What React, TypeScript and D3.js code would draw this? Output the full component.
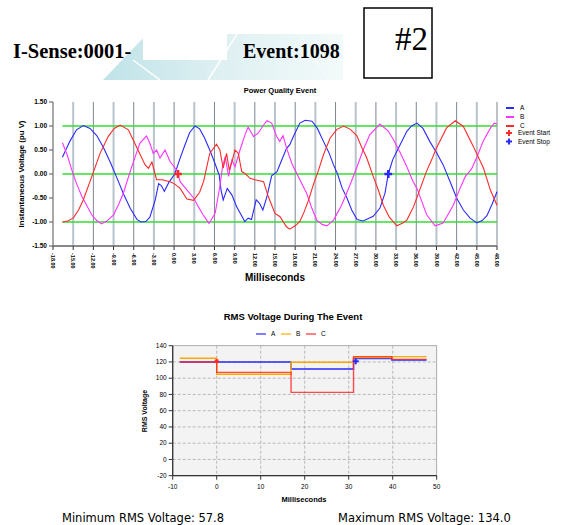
import * as d3 from "d3";
import React from "react";

type Pt = [number, number];

// instantaneous voltage, pu, read from the capture (ms, value)
const phaseA: Pt[] = [
  [-16.6, 0.35], [-15.5, 0.68], [-14.5, 0.92], [-13.5, 1.01], [-12.5, 0.95], [-11.5, 0.8], [-10.5, 0.55],
  [-9.5, 0.25], [-8.5, -0.08], [-7.5, -0.42], [-6.5, -0.72], [-5.5, -0.95], [-4.9, -1.0], [-4.2, -0.99],
  [-3.6, -0.9], [-2.8, -0.54], [-2.3, -0.2], [-1.9, -0.24], [-1.45, -0.36], [-0.8, -0.18], [0.1, 0.0],
  [0.9, 0.33], [1.6, 0.6], [2.3, 0.86], [3.1, 1.0], [3.8, 0.94], [4.5, 0.76], [5.3, 0.5], [6.0, 0.25],
  [6.7, -0.02], [7.0, -0.35], [7.3, -0.54], [7.9, -0.3], [8.6, -0.44], [9.3, -0.68], [10.0, -0.86],
  [10.5, -0.99], [11.0, -0.92], [11.5, -0.95], [12.2, -0.54], [12.7, -0.61], [13.2, -0.75], [13.8, -0.47],
  [14.5, -0.04], [15.3, 0.05], [16.0, 0.29], [16.7, 0.53], [17.2, 0.61], [17.8, 0.8], [18.7, 1.06],
  [19.5, 1.12], [20.5, 1.1], [21.3, 0.95], [22.2, 0.68], [23.0, 0.45], [23.7, 0.19], [24.3, 0.0],
  [25.0, -0.3], [25.7, -0.5], [26.4, -0.75], [27.2, -0.95], [28.1, -0.98], [29.6, -0.88], [30.6, -0.71],
  [31.35, -0.4], [31.84, 0.0], [32.5, 0.3], [33.1, 0.47], [34.6, 0.89], [35.3, 1.0], [36.1, 1.06],
  [37.0, 0.95], [38.0, 0.68], [39.0, 0.45], [40.0, 0.19], [41.0, -0.15], [42.0, -0.5], [43.0, -0.75],
  [44.0, -0.92], [45.0, -1.02], [45.8, -0.97], [46.5, -0.87], [47.3, -0.62], [48.0, -0.37],
];
const phaseB: Pt[] = [
  [-16.6, 0.65], [-15.9, 0.4], [-15.2, 0.08], [-14.5, -0.2], [-13.7, -0.47], [-12.25, -0.85], [-11.5, -0.97],
  [-10.8, -1.04], [-10.0, -0.98], [-9.0, -0.85], [-8.2, -0.62], [-7.55, -0.4], [-6.3, 0.15], [-5.1, 0.64],
  [-4.1, 0.79], [-3.6, 0.64], [-3.1, 0.43], [-2.6, 0.5], [-2.1, 0.33], [-1.35, 0.5], [-0.6, 0.26],
  [0.4, 0.08], [0.9, -0.16], [1.9, -0.33], [2.9, -0.5], [3.6, -0.68], [4.3, -0.85], [5.2, -1.03],
  [6.1, -0.82], [6.8, -0.26], [7.2, 0.15], [7.6, 0.36], [8.1, -0.05], [8.6, 0.29], [9.05, 0.15],
  [9.8, 0.5], [10.5, 0.8], [11.0, 0.98], [11.8, 0.78], [12.5, 0.85], [13.2, 1.0], [13.8, 1.11],
  [14.5, 1.06], [15.25, 0.78], [15.7, 0.68], [16.2, 0.8], [16.7, 0.55], [17.5, 0.22], [18.7, -0.12],
  [19.7, -0.4], [20.5, -0.72], [21.2, -0.96], [22.0, -1.05], [22.7, -1.08], [23.7, -0.96], [24.9, -0.65],
  [26.15, -0.23], [27.2, 0.15], [28.1, 0.5], [29.1, 0.82], [30.6, 1.04], [31.8, 0.9], [32.6, 0.72],
  [33.6, 0.45], [34.6, 0.15], [35.5, -0.15], [36.1, -0.3], [37.55, -0.85], [38.8, -1.08], [40.0, -1.02],
  [41.5, -0.65], [42.5, -0.3], [43.3, -0.05], [44.2, 0.1], [45.0, 0.35], [46.0, 0.7], [47.0, 0.95],
  [47.6, 1.06], [48.0, 1.04],
];
const phaseC: Pt[] = [
  [-16.6, -1.0], [-15.8, -0.98], [-15.0, -0.92], [-14.2, -0.75], [-13.5, -0.54], [-12.25, -0.06], [-11.0, 0.43],
  [-9.8, 0.78], [-8.9, 0.95], [-8.0, 1.02], [-6.8, 0.92], [-5.6, 0.57], [-4.3, 0.19], [-3.8, 0.12],
  [-3.3, 0.25], [-2.6, -0.12], [-1.8, -0.12], [-0.6, -0.16], [0.0, -0.2], [0.9, -0.3], [1.9, -0.52],
  [2.9, -0.55], [3.8, -0.38], [4.4, -0.15], [5.3, 0.43], [6.3, 0.62], [6.8, 0.5], [7.3, 0.12],
  [7.8, 0.43], [8.2, 0.08], [8.6, 0.26], [9.05, 0.5], [9.55, 0.43], [10.05, 0.05], [10.55, 0.01],
  [11.3, -0.09], [12.0, -0.12], [13.3, -0.16], [14.0, -0.47], [15.0, -0.82], [15.75, -0.89], [16.7, -1.1],
  [17.2, -1.15], [18.0, -1.08], [18.7, -0.99], [19.3, -0.8], [20.0, -0.54], [20.7, -0.22], [21.4, 0.05],
  [22.2, 0.4], [23.2, 0.75], [24.2, 0.93], [25.2, 1.0], [26.2, 0.93], [27.15, 0.8], [28.0, 0.52],
  [28.6, 0.35], [29.6, -0.05], [30.4, -0.35], [31.1, -0.65], [32.0, -0.9], [33.1, -1.08], [34.0, -1.02],
  [34.6, -0.96], [35.6, -0.68], [36.6, -0.3], [37.5, 0.05], [38.3, 0.3], [39.0, 0.54], [40.5, 0.96],
  [41.8, 1.11], [43.0, 0.99], [44.5, 0.57], [46.0, 0.12], [47.0, -0.33], [48.0, -0.65],
];
const eventStart: Pt = [0.58, 0];
const eventStop: Pt = [31.84, 0];
const waveTicksX = [-18, -15, -12, -9, -6, -3, 0, 3, 6, 9, 12, 15, 18, 21, 24, 27, 30, 33, 36, 39, 42, 45, 48];
const waveTicksY = [1.5, 1, 0.5, 0, -0.5, -1, -1.5];
const refLevels = [1, 0, -1];
const waveLegend = ["A", "B", "C"];

// rms step values per phase between the edges
const rmsEdges = [-8.4, 0, 16.9, 31.1, 39.8, 47.7];
const rmsA = [120, 120, 111.3, 124.2, 122.4];
const rmsB = [124.5, 104.8, 119.6, 125.5, 126.5];
const rmsC = [120, 107.2, 82.6, 126.6, 123.2];
const rmsStart: Pt = [0, 121];
const rmsStop: Pt = [31.6, 121];
const rmsTicksX = [-10, 0, 10, 20, 30, 40, 50];
const rmsTicksY = [140, 120, 100, 80, 60, 40, 20, 0, -20];

const minRms = "57.8";
const maxRms = "134.0";

const BLUE = "#2a2aff";
const MAGENTA = "#ff33ff";
const RED = "#ff2a2a";
const ORANGE = "#ffaa00";
const sans = "'Liberation Sans', Arial, sans-serif";

export default function App() {
  const wx = d3.scaleLinear().domain([-18, 48]).range([53, 497]);
  const wy = d3.scaleLinear().domain([-1.5, 1.5]).range([246, 102]);
  const waveLine = d3.line<Pt>().x(d => wx(d[0])).y(d => wy(d[1]));

  const rx = d3.scaleLinear().domain([-10, 50]).range([172.7, 436.7]);
  const ry = d3.scaleLinear().domain([-20, 140]).range([475.7, 345.7]);
  const stepLine = d3.line<Pt>().x(d => rx(d[0])).y(d => ry(d[1])).curve(d3.curveStepAfter);
  const steps = (vals: number[]): Pt[] => {
    const pts: Pt[] = vals.map((v, i) => [rmsEdges[i], v]);
    pts.push([rmsEdges[rmsEdges.length - 1], vals[vals.length - 1]]);
    return pts;
  };

  const cross = d3.symbol().type(d3.symbolCross).size(34)() as string;
  const smallCross = d3.symbol().type(d3.symbolCross).size(20)() as string;
  const waveColors = [BLUE, MAGENTA, RED];
  const waveData = [phaseA, phaseB, phaseC];

  return (
    <div style={{ position: "fixed", left: 0, top: 0 }}>
      <svg width={564} height={525} style={{ display: "block", background: "#fff" }}>
        <defs>
          <linearGradient id="banner" x1="0" x2="1" y1="0" y2="0">
            <stop offset="0" stopColor="#bfe3e8" />
            <stop offset="0.5" stopColor="#dff0f2" />
            <stop offset="1" stopColor="#f3fafa" />
          </linearGradient>
        </defs>

        {/* header */}
        <polygon points="147,34 343,34 343,80 103,80" fill="url(#banner)" />
        <rect x={143} y={34} width={84} height={26} fill="#fff" />
        <line x1={133} y1={60} x2={160} y2={80} stroke="#fff" strokeWidth={1.5} />
        <line x1={237} y1={34} x2={208} y2={80} stroke="#fff" strokeWidth={1.5} />
        <line x1={300} y1={34} x2={328} y2={80} stroke="#fff" strokeWidth={1} opacity={0.7} />
        <text x={13} y={58} fontFamily="'Liberation Serif', 'Times New Roman', serif" fontWeight="bold" fontSize={20.5}>I-Sense:0001-</text>
        <text x={243} y={58} fontFamily="'Liberation Serif', 'Times New Roman', serif" fontWeight="bold" fontSize={20}>Event:1098</text>
        <rect x={364} y={8} width={68} height={70} fill="none" stroke="#000" strokeWidth={1.5} />
        <text x={395} y={50} fontFamily="'Liberation Serif', 'Times New Roman', serif" fontSize={33}>#2</text>

        {/* waveform chart */}
        <text x={280} y={93} textAnchor="middle" fontFamily={sans} fontWeight="bold" fontSize={7.5}>Power Quality Event</text>
        {waveTicksX.slice(1).map((t, i) => (
          <line key={t} x1={wx(t)} x2={wx(t)} y1={wy(1.5)} y2={wy(-1.5)}
            stroke={i % 2 === 0 ? "#b9c3cc" : "#7c8590"} strokeWidth={i % 2 === 0 ? 2 : 1} />
        ))}
        {refLevels.map(v => (
          <line key={v} x1={wx(phaseA[0][0])} x2={wx(48)} y1={wy(v)} y2={wy(v)} stroke="#33dd33" strokeWidth={1.5} />
        ))}
        <line x1={wx(-18)} x2={wx(-18)} y1={wy(1.5)} y2={wy(-1.5)} stroke="#555" strokeWidth={1} />
        <line x1={wx(-18)} x2={wx(48)} y1={wy(-1.5)} y2={wy(-1.5)} stroke="#888" strokeWidth={2} />
        {waveTicksY.map(v => (
          <g key={v}>
            <line x1={wx(-18) - 4} x2={wx(-18)} y1={wy(v)} y2={wy(v)} stroke="#555" />
            <text x={wx(-18) - 6} y={wy(v)} dy="0.35em" textAnchor="end" fontFamily={sans} fontWeight="bold" fontSize={6.5}>
              {v.toFixed(2)}
            </text>
          </g>
        ))}
        {waveTicksX.map(t => (
          <g key={t}>
            <line x1={wx(t)} x2={wx(t)} y1={wy(-1.5)} y2={wy(-1.5) + 4} stroke="#333" />
            <text transform={`translate(${wx(t)},${wy(-1.5) + 7}) rotate(90)`} dy="0.35em" fontFamily={sans}
              fontWeight="bold" fontSize={5.5}>{t.toFixed(2)}</text>
          </g>
        ))}
        {waveData.map((d, i) => (
          <path key={i} d={waveLine(d) as string} fill="none" stroke={waveColors[i]} strokeWidth={1.1} />
        ))}
        <path d={cross} transform={`translate(${wx(eventStart[0])},${wy(eventStart[1])})`} fill={RED} />
        <path d={cross} transform={`translate(${wx(eventStop[0])},${wy(eventStop[1])})`} fill={BLUE} />
        <text transform="translate(24,174) rotate(-90)" textAnchor="middle" fontFamily={sans} fontWeight="bold" fontSize={7.8}>
          Instantaneous Voltage (pu V)
        </text>
        <text x={275} y={281} textAnchor="middle" fontFamily={sans} fontWeight="bold" fontSize={10}>Milliseconds</text>
        {waveLegend.map((s, i) => (
          <g key={s} transform={`translate(506,${108 + i * 9})`}>
            <line x1={0} x2={8} y1={0} y2={0} stroke={waveColors[i]} strokeWidth={2} />
            <text x={14} dy="0.35em" fontFamily={sans} fontSize={6.5}>{s}</text>
          </g>
        ))}
        <g transform="translate(509,133)">
          <path d={smallCross} fill={RED} />
          <text x={9} dy="0.35em" fontFamily={sans} fontSize={6.5}>Event Start</text>
        </g>
        <g transform="translate(509,141.5)">
          <path d={smallCross} fill={BLUE} />
          <text x={9} dy="0.35em" fontFamily={sans} fontSize={6.5}>Event Stop</text>
        </g>

        {/* rms chart */}
        <text x={293} y={320} textAnchor="middle" fontFamily={sans} fontWeight="bold" fontSize={9.5}>RMS Voltage During The Event</text>
        {[["A", BLUE], ["B", ORANGE], ["C", RED]].map(([s, c], i) => (
          <g key={s} transform={`translate(${256 + i * 25},334)`}>
            <line x1={0} x2={10} y1={0} y2={0} stroke={c} strokeWidth={1.2} />
            <text x={15} dy="0.35em" fontFamily={sans} fontSize={6.5}>{s}</text>
          </g>
        ))}
        <rect x={rx(-10)} y={ry(140)} width={rx(50) - rx(-10)} height={ry(-20) - ry(140)} fill="#f3f3f3" stroke="#999" strokeWidth={0.8} />
        {rmsTicksX.slice(1, -1).map(t => (
          <line key={t} x1={rx(t)} x2={rx(t)} y1={ry(140)} y2={ry(-20)} stroke="#aaa" strokeDasharray="3,2" strokeWidth={0.8} />
        ))}
        {rmsTicksY.slice(1, -1).map(v => (
          <line key={v} x1={rx(-10)} x2={rx(50)} y1={ry(v)} y2={ry(v)} stroke="#aaa" strokeDasharray="3,2" strokeWidth={0.8} />
        ))}
        <line x1={rx(-10)} x2={rx(-10)} y1={ry(140)} y2={ry(-20)} stroke="#333" strokeWidth={1.3} />
        <line x1={rx(-10)} x2={rx(50)} y1={ry(-20)} y2={ry(-20)} stroke="#333" strokeWidth={1.3} />
        {rmsTicksY.map(v => (
          <g key={v}>
            <line x1={rx(-10) - 4} x2={rx(-10)} y1={ry(v)} y2={ry(v)} stroke="#333" />
            <text x={rx(-10) - 6} y={ry(v)} dy="0.35em" textAnchor="end" fontFamily={sans} fontSize={6.5}>{v}</text>
          </g>
        ))}
        {rmsTicksX.map(t => (
          <g key={t}>
            <line x1={rx(t)} x2={rx(t)} y1={ry(-20)} y2={ry(-20) + 4} stroke="#333" />
            <text x={rx(t)} y={ry(-20) + 13} textAnchor="middle" fontFamily={sans} fontSize={6.5}>{t}</text>
          </g>
        ))}
        <path d={stepLine(steps(rmsA)) as string} fill="none" stroke={BLUE} strokeWidth={1.4} />
        <path d={stepLine(steps(rmsB)) as string} fill="none" stroke={ORANGE} strokeWidth={1.4} />
        <path d={stepLine(steps(rmsC)) as string} fill="none" stroke={RED} strokeWidth={1.4} opacity={0.85} />
        <circle cx={rx(rmsStart[0])} cy={ry(rmsStart[1])} r={2.2} fill={RED} />
        <path d={smallCross} transform={`translate(${rx(rmsStop[0])},${ry(rmsStop[1])})`} fill={BLUE} />
        <text transform="translate(147,411) rotate(-90)" textAnchor="middle" fontFamily={sans} fontWeight="bold" fontSize={7}>RMS Voltage</text>
        <text x={304} y={502} textAnchor="middle" fontFamily={sans} fontWeight="bold" fontSize={7.5}>Milliseconds</text>

        {/* summary */}
        <text x={62} y={522} fontFamily="'DejaVu Sans', Verdana, sans-serif" fontSize={11.5}>Minimum RMS Voltage: {minRms}</text>
        <text x={338} y={522} fontFamily="'DejaVu Sans', Verdana, sans-serif" fontSize={11.5}>Maximum RMS Voltage: {maxRms}</text>
      </svg>
    </div>
  );
}
